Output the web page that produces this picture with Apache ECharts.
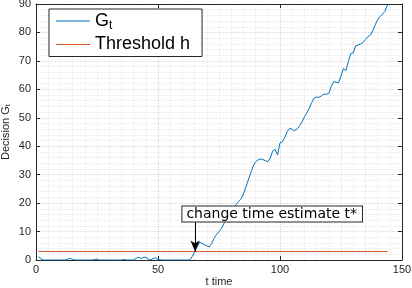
<!DOCTYPE html>
<html>
<head>
<meta charset="utf-8">
<script src="https://cdn.jsdelivr.net/npm/echarts@6/dist/echarts.min.js"></script>
<style>html,body{margin:0;padding:0;background:#fff}#c{width:412px;height:288px}</style>
</head>
<body>
<div id="c"></div>
<script>
// time steps t = 1..144
var tValues = [];
for (var i = 1; i <= 144; i++) tValues.push(i);
// decision statistic G_t
var gValues = [
 1.2,0.5,0,0,0,0,0,0,0,0,
 0,0,0.3,0.6,0.2,0,0,0,0,0,
 0,0,0,0.2,0.3,0,0,0,0,0,
 0,0,0,0,0,0.2,0,0,0,0,
 0.6,1.0,0.5,0.9,1.0,0.3,0,0.5,0.8,0.2,
 0.1,0,0,0,0,0,0,0,0,0,
 0,0,0,1.2,2.9,4.6,6.2,5.9,5.4,5.0,
 4.6,5.8,7.6,9.0,10.0,11.0,12.8,14.6,15.6,16.3,
 17.6,19.5,20.6,21.5,23.2,25.6,28.1,30.6,33.0,34.5,
 35.2,35.5,35.3,34.9,34.6,35.8,38.3,38.9,36.9,41.2,
 41.6,43.2,45.2,46.3,45.9,45.5,46.0,47.2,48.5,50.3,
 51.7,53.4,55.3,57.0,57.3,57.2,57.7,58.3,58.3,58.5,
 61.0,62.7,62.5,62.3,64.7,67.3,66.6,69.7,72.6,72.8,
 75.3,75.6,75.9,76.4,77.5,78.5,79.0,80.6,82.6,84.5,
 85.6,86.4,87.4,89.6
];
var thresholdH = 3;
var xTicks = [0, 50, 100, 150];
var yTicks = [0, 10, 20, 30, 40, 50, 60, 70, 80, 90];
var changeEstimate = 65.2;
var annotText = 'change time estimate t*';
var annotAnchor = [60, 16.2];
var arrowTop = 13.4;

var gData = tValues.map(function (t, i) { return [t, gValues[i]]; });
var hData = tValues.map(function (t) { return [t, thresholdH]; });

var FONT = 'Liberation Sans';
var AX = '#262626';
var chart = echarts.init(document.getElementById('c'), null, {renderer: 'canvas'});

function axisBase(extra) {
  var o = {
    axisLine: {show: true, onZero: false, lineStyle: {color: AX, width: 1}},
    axisTick: {show: true, inside: true, length: 4, lineStyle: {color: AX}},
    axisLabel: {color: AX, fontFamily: FONT, fontSize: 11},
    splitLine: {show: false},
    minorTick: {show: false},
    minorSplitLine: {show: false}
  };
  for (var k in extra) o[k] = extra[k];
  return o;
}

chart.setOption({
  animation: false,
  grid: {left: 36, right: 10, top: 4, bottom: 28, containLabel: false, outerBoundsMode: 'none'},
  legend: {
    orient: 'vertical', left: 49, top: 9,
    backgroundColor: '#fff', borderColor: AX, borderWidth: 1, borderRadius: 0,
    padding: [3, 12, 3, 7], itemWidth: 34, itemHeight: 1.2, itemGap: 4,
    icon: 'rect',
    data: ['Gt', 'Threshold h'],
    formatter: function (n) { return n === 'Gt' ? '{m|G}{s|t}' : '{m|Threshold h}'; },
    textStyle: {
      color: '#000', fontFamily: FONT, fontSize: 18,
      rich: {m: {fontSize: 18, fontFamily: FONT, color: '#000'},
             s: {fontSize: 12, fontFamily: FONT, color: '#000', verticalAlign: 'bottom', padding: [9, 0, 0, 0]}}
    }
  },
  xAxis: [
    axisBase({
      type: 'value', min: 0, max: 150, interval: 50, position: 'bottom',
      name: 't time', nameLocation: 'middle', nameGap: 16, nameMoveOverlap: false,
      nameTextStyle: {color: AX, fontFamily: FONT, fontSize: 11},
      axisLabel: {color: AX, fontFamily: FONT, fontSize: 11, margin: 4,
        formatter: function (v) { return xTicks.indexOf(v) >= 0 ? String(v) : ''; }},
      splitLine: {show: true, lineStyle: {color: '#d4d4d4', type: [1, 1.2], width: 1}},
      minorTick: {show: false, splitNumber: 10},
      minorSplitLine: {show: true, lineStyle: {color: '#e6e6e6', type: [1, 1.2], width: 1}}
    }),
    axisBase({type: 'value', min: 0, max: 150, interval: 50, position: 'top',
      axisLabel: {show: false}})
  ],
  yAxis: [
    axisBase({
      type: 'value', min: 0, max: 90, interval: 10, position: 'left',
      name: '{m|Decision G}{s|t}', nameLocation: 'middle', nameGap: 24, nameRotate: 90,
      nameMoveOverlap: false,
      nameTextStyle: {color: AX, fontFamily: FONT, fontSize: 11,
        rich: {m: {fontSize: 11, fontFamily: FONT, color: AX},
               s: {fontSize: 8, fontFamily: FONT, color: AX, verticalAlign: 'bottom', padding: [5, 0, 0, 0]}}},
      axisLabel: {color: AX, fontFamily: FONT, fontSize: 11, margin: 5,
        formatter: function (v) { return yTicks.indexOf(v) >= 0 ? String(v) : ''; }},
      splitLine: {show: true, lineStyle: {color: '#d4d4d4', type: [1, 1.2], width: 1}},
      minorTick: {show: false, splitNumber: 5},
      minorSplitLine: {show: true, lineStyle: {color: '#e6e6e6', type: [1, 1.2], width: 1}}
    }),
    axisBase({type: 'value', min: 0, max: 90, interval: 10, position: 'right',
      axisLabel: {show: false}})
  ],
  series: [
    {
      name: 'Gt', type: 'line', data: gData, showSymbol: false, symbol: 'none',
      lineStyle: {color: '#0072BD', width: 1}, itemStyle: {color: '#0072BD'}, z: 3
    },
    {
      name: 'Threshold h', type: 'line', data: hData, showSymbol: false, symbol: 'none',
      lineStyle: {color: '#D95319', width: 1}, itemStyle: {color: '#D95319'}, z: 2,
      markLine: {
        silent: true, symbol: ['none', 'arrow'], symbolSize: [7, 11],
        lineStyle: {color: '#000', width: 1, type: 'solid'},
        label: {show: false},
        data: [[{coord: [changeEstimate, arrowTop]}, {coord: [changeEstimate, thresholdH]}]]
      },
      markPoint: {
        silent: true, symbol: 'rect', symbolSize: 0,
        data: [{coord: annotAnchor, value: annotText}],
        label: {
          show: true, position: 'right', distance: 0, formatter: annotText,
          color: '#000', fontFamily: 'DejaVu Sans', fontSize: 14,
          backgroundColor: '#fff', borderColor: AX, borderWidth: 1,
          padding: [1, 5, 0, 4]
        }
      }
    }
  ]
});
</script>
</body>
</html>
